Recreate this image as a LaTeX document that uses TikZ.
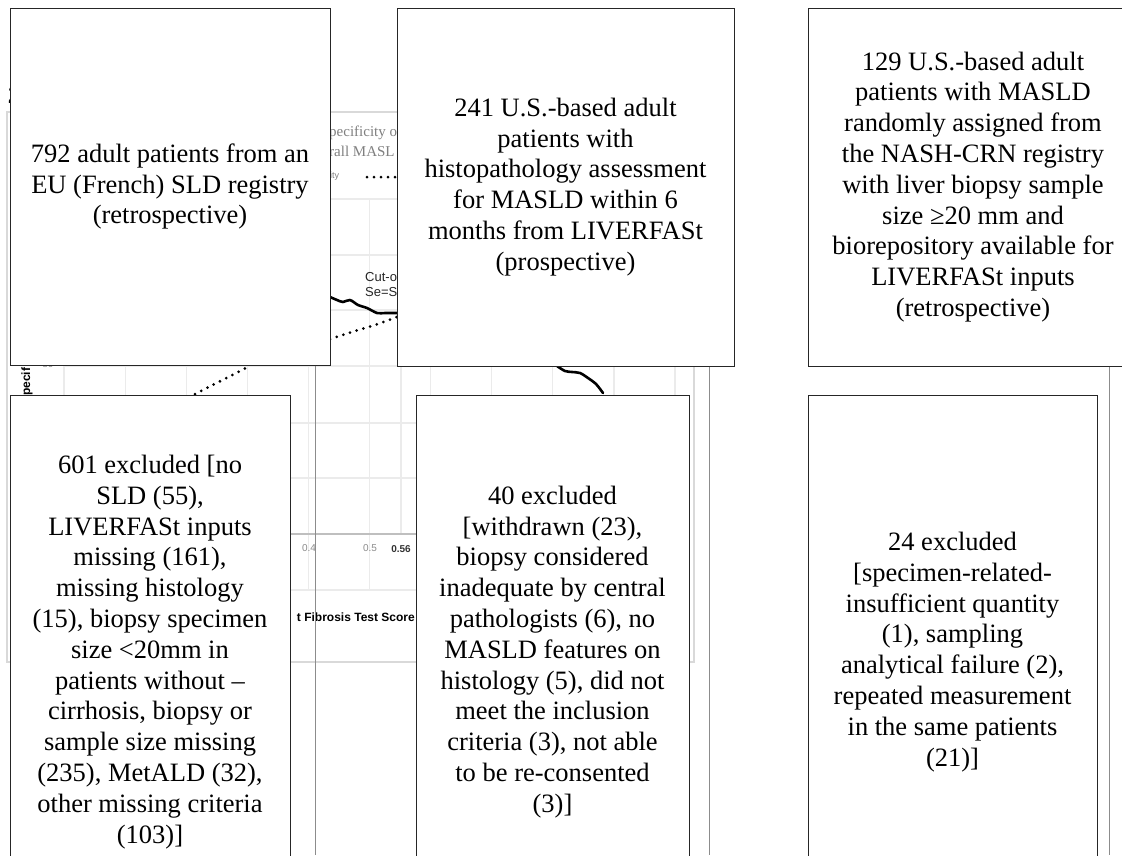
\documentclass[tikz,border=0pt]{standalone}
\usepackage{fontspec}
\setmainfont{Liberation Serif}
\newfontfamily\chartsans{Liberation Sans}
\begin{document}
\begin{tikzpicture}[x=1pt,y=-1pt,
  box/.style={draw=black!85, line width=1pt, fill=white, inner sep=0pt, align=center,
    font=\fontsize{26.5}{30.8}\selectfont},
  gridln/.style={draw=black!8, line width=1.2pt},
  panel/.style={draw=black!15, line width=1.2pt},
  link/.style={draw=black!45, line width=1pt},
  solidcurve/.style={line width=2.6pt, line join=round, line cap=round},
  dotcurve/.style={line width=3pt, line cap=round, dash pattern=on 0pt off 7pt},
  ticklbl/.style={font=\chartsans\fontsize{10}{12}\selectfont, text=black!45, inner sep=0pt},
  chartxt/.style={inner sep=0pt, anchor=west},
]
\useasboundingbox (0,0) rectangle (1122,855);
\clip (0,0) rectangle (1122,855);
\fill[white] (0,0) rectangle (1122,855);

% ---- background chart fragments ----
\node[chartxt, font=\chartsans\bfseries\fontsize{25}{28}\selectfont] (plabel) at (8,95) {2};
\draw[panel] (7,112) rectangle (694,662);
\foreach \k in {0,...,10} \draw[gridln] ({64+61.1*\k},198) -- ({64+61.1*\k},590);
\draw[gridln] (401,198) -- (401,534);
\foreach \yy in {199,255,310,366,423,478,590} \draw[gridln] (64,\yy) -- (675,\yy);
\draw[draw=black!25, line width=1.5pt] (64,534) -- (675,534);

\node[ticklbl] (t04) at (309,548) {0.4};
\node[ticklbl] (t05) at (370,548) {0.5};
\node[ticklbl, text=black!80, font=\chartsans\bfseries\fontsize{10}{12}\selectfont] (t056) at (401,549) {0.56};
\node[inner sep=0pt, anchor=east, font=\chartsans\bfseries\fontsize{12}{14}\selectfont] (xlab) at (415,617) {t Fibrosis Test Score};
\node[inner sep=0pt, anchor=west, rotate=90, font=\chartsans\bfseries\fontsize{12}{14}\selectfont] (ylab) at (27,396) {pecif};
\node[ticklbl] (t80) at (48,364) {80};

\node[chartxt, font=\fontsize{15}{18}\selectfont, text=black!50] (ttl1) at (329,133) {pecificity o};
\node[chartxt, font=\fontsize{15}{18}\selectfont, text=black!50] (ttl2) at (329,151) {rall MASL};
\node[chartxt, font=\chartsans\fontsize{9}{11}\selectfont, text=black!50] (leg) at (330,176) {ity};
\node[chartxt, font=\chartsans\fontsize{13}{15}\selectfont, text=black!85] (cut1) at (365,277) {Cut-o};
\node[chartxt, font=\chartsans\fontsize{13}{15}\selectfont, text=black!85] (cut2) at (365,293) {Se=Sp};

\draw[solidcurve] plot[smooth] coordinates {(330,297) (337,300) (343,302) (350,300) (358,305) (367,308) (377,313) (385,313) (397,313)};
\draw[solidcurve] plot[smooth] coordinates {(557,366) (565,371) (572,372) (580,373) (588,378) (596,384) (603,393)};
\draw[dotcurve] plot[smooth] coordinates {(330,339) (355,331) (375,325) (397,317)};
\draw[dotcurve] (195,394) -- (248,367);
\draw[dotcurve] (367,177) -- (397,177);

% ---- flow boxes ----
\node[box, minimum width=320pt, minimum height=357pt] (A) at (170,186.5)
  {792 adult patients from an\\EU (French) SLD registry\\(retrospective)};
\node[box, minimum width=337pt, minimum height=358pt] (B) at (565.5,187)
  {241 U.S.-based adult\\patients with\\histopathology assessment\\for MASLD within 6\\months from LIVERFASt\\(prospective)};
\node[box, minimum width=330pt, minimum height=358pt] (C) at (973,187)
  {129 U.S.-based adult\\patients with MASLD\\randomly assigned from\\the NASH-CRN registry\\with liver biopsy sample\\size ≥20 mm and\\biorepository available for\\LIVERFASt inputs\\(retrospective)};

\node[box, minimum width=280pt, minimum height=514pt] (D) at (150,652)
  {601 excluded {[}no\\SLD (55),\\LIVERFASt inputs\\missing (161),\\missing histology\\(15), biopsy specimen\\size <20mm in\\patients without –\\cirrhosis, biopsy or\\sample size missing\\(235), MetALD (32),\\other missing criteria\\(103){]}};
\node[box, minimum width=273pt, minimum height=514pt] (E) at (552.5,652)
  {40 excluded\\{[}withdrawn (23),\\biopsy considered\\inadequate by central\\pathologists (6), no\\MASLD features on\\histology (5), did not\\meet the inclusion\\criteria (3), not able\\to be re-consented\\(3){]}};
\node[box, minimum width=289pt, minimum height=514pt] (F) at (952.5,652)
  {24 excluded\\{[}specimen-related-\\insufficient quantity\\(1), sampling\\analytical failure (2),\\repeated measurement\\in the same patients\\(21){]}};

% ---- connectors ----
\coordinate (endA) at (315,855);
\coordinate (endB) at (709,855);
\coordinate (endC) at (1109,855);
\draw[link] (A.south -| endA) -- (endA);
\draw[link] (B.south -| endB) -- (endB);
\draw[link] (C.south -| endC) -- (endC);
\end{tikzpicture}
\end{document}
